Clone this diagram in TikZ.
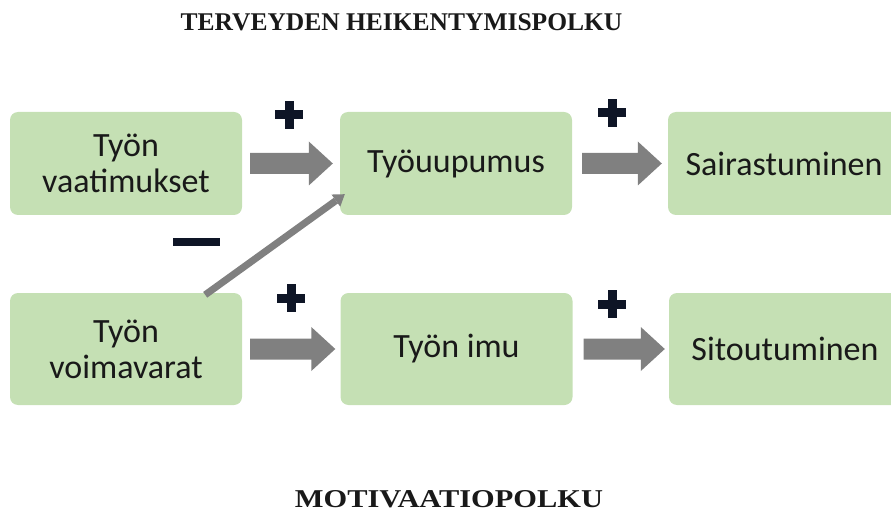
\documentclass[tikz,border=0pt]{standalone}
\usepackage{fontspec}
\setmainfont{Carlito}
\newfontfamily\titlefont{Liberation Serif}
\usetikzlibrary{arrows.meta,calc}
\definecolor{boxgreen}{HTML}{C5E0B4}
\definecolor{arrowgray}{HTML}{808080}
\definecolor{signnavy}{HTML}{0E1526}
\newcommand\blockarr[2]{%
  \fill[arrowgray] let \p1=(#1), \p2=(#2) in
    (\x1,\y1+10.5pt) -- (\x2-24pt,\y1+10.5pt) -- (\x2-24pt,\y1+22pt) -- (\x2,\y1)
    -- (\x2-24pt,\y1-22pt) -- (\x2-24pt,\y1-10.5pt) -- (\x1,\y1-10.5pt) -- cycle;}
\begin{document}
\begin{tikzpicture}[x=1pt,y=1pt,
  box/.style={fill=boxgreen, rounded corners=8pt, minimum width=232pt, align=center,
    font=\fontsize{34}{36}\selectfont, inner sep=0pt, text=black!90},
  rowone/.style={minimum height=103pt},
  rowtwo/.style={minimum height=112pt},
  title/.style={font=\titlefont\bfseries\fontsize{25.5}{28}\selectfont, inner sep=0pt, text=black!90},
  plusv/.style={fill=signnavy, minimum width=9pt, minimum height=28pt, inner sep=0pt},
  plush/.style={fill=signnavy, minimum width=28pt, minimum height=9pt, inner sep=0pt},
  minussign/.style={fill=signnavy, minimum width=47pt, minimum height=8pt, inner sep=0pt},
  diag/.style={draw=arrowgray, line width=7pt, -{Triangle[length=11pt,width=15pt,line width=0pt]}}]
\useasboundingbox (0,0) rectangle (891,512);

\node[title] (t1) at (401.5,489.5) {TERVEYDEN HEIKENTYMISPOLKU};
\node[title] (t2) at (449,13) {\resizebox{308pt}{17pt}{MOTIVAATIOPOLKU}};

\node[box,rowone] (b1) at (126,348.5) {Työn\\vaatimukset};
\node[box,rowone] (b2) at (456,348.5) {Työuupumus};
\node[box,rowone] (b3) at (784,348.5) {Sairastuminen};
\node[box,rowtwo] (b4) at (126,163) {Työn\\voimavarat};
\node[box,rowtwo] (b5) at (456.5,163) {Työn imu};
\node[box,rowtwo] (b6) at (785,163) {Sitoutuminen};

\blockarr{[xshift=8pt]b1.east}{[xshift=-7pt]b2.west}
\blockarr{[xshift=10pt]b2.east}{[xshift=-6pt]b3.west}
\blockarr{[xshift=8pt]b4.east}{[xshift=-5pt]b5.west}
\blockarr{[xshift=11pt]b5.east}{[xshift=-4pt]b6.west}

\draw[diag] ([xshift=-37pt,yshift=-2pt]b4.north east) -- ([xshift=5pt,yshift=21pt]b2.south west);

\node[plusv] (p1) at (289,397) {};
\node[plush] (p1h) at (p1) {};
\node[plusv] (p2) at (612,399) {};
\node[plush] (p2h) at (p2) {};
\node[plusv] (p3) at (291,214) {};
\node[plush] (p3h) at (p3) {};
\node[plusv] (p4) at (612,208) {};
\node[plush] (p4h) at (p4) {};
\node[minussign] (m1) at (196,270) {};
\end{tikzpicture}
\end{document}
